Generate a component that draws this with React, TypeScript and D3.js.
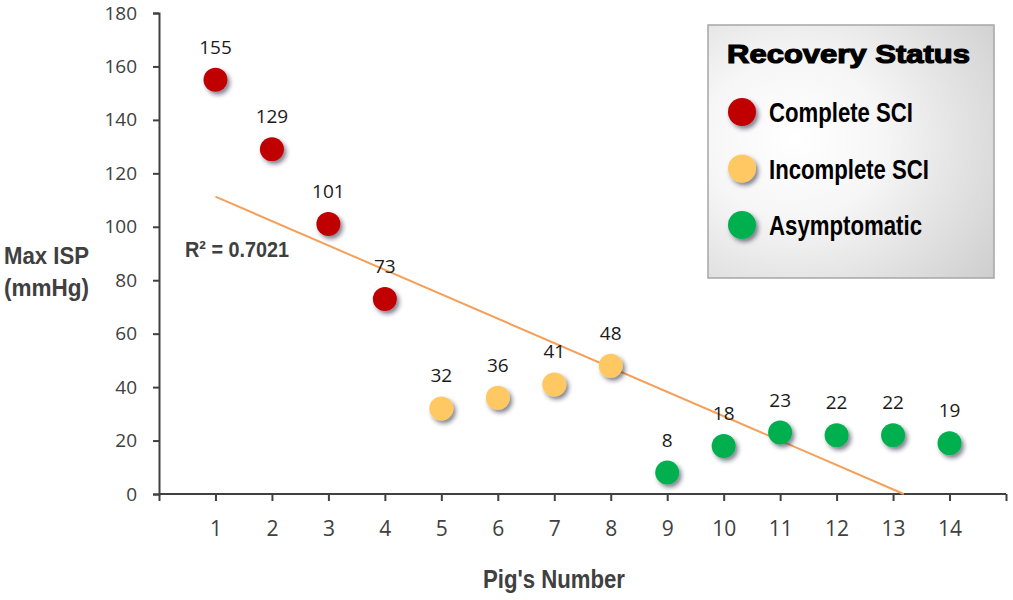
import React, { useRef, useEffect } from 'react';
import * as d3 from 'd3';

const pigs = [1, 2, 3, 4, 5, 6, 7, 8, 9, 10, 11, 12, 13, 14];
const maxIsp = [155, 129, 101, 73, 32, 36, 41, 48, 8, 18, 23, 22, 22, 19];
const status = ['c', 'c', 'c', 'c', 'i', 'i', 'i', 'i', 'a', 'a', 'a', 'a', 'a', 'a'];
const statusKeys = ['c', 'i', 'a'];
const statusLabels = ['Complete SCI', 'Incomplete SCI', 'Asymptomatic'];
const statusColors = ['#C00000', '#FFC864', '#00B050'];
const yTicks = [0, 20, 40, 60, 80, 100, 120, 140, 160, 180];
const rSquaredLabel = 'R² = 0.7021';

const W = 1013;
const H = 600;

const App: React.FC = () => {
  const ref = useRef<SVGSVGElement>(null);

  useEffect(() => {
    document.body.style.margin = '0';
    if (!ref.current) return;
    const svg = d3.select(ref.current);
    svg.selectAll('*').remove();

    const x = d3.scaleLinear().domain([0, 15]).range([159, 1006]);
    const y = d3.scaleLinear().domain([0, 180]).range([494, 13]);
    const color = d3.scaleOrdinal<string, string>().domain(statusKeys).range(statusColors);

    const defs = svg.append('defs');
    defs.append('filter')
      .attr('id', 'shadow')
      .attr('x', '-50%').attr('y', '-50%').attr('width', '200%').attr('height', '200%')
      .append('feDropShadow')
      .attr('dx', 2.5).attr('dy', 3).attr('stdDeviation', 2)
      .attr('flood-color', '#1a1a3a').attr('flood-opacity', 0.55);

    const grad = defs.append('radialGradient')
      .attr('id', 'legendFill')
      .attr('cx', '30%').attr('cy', '45%').attr('r', '90%');
    grad.append('stop').attr('offset', '0%').attr('stop-color', '#ffffff');
    grad.append('stop').attr('offset', '35%').attr('stop-color', '#f6f6f6');
    grad.append('stop').attr('offset', '100%').attr('stop-color', '#cdcdcd');

    const tickFont = '"Open Sans", "Noto Sans", sans-serif';
    const boldFont = '"Liberation Sans", Arial, sans-serif';

    // condensed bold text: squeeze to the measured width
    const narrow = (
      g: d3.Selection<any, any, any, any>, tx: number, ty: number, txt: string,
      size: number, len: number, fill: string,
    ) => g.append('text')
      .attr('x', tx).attr('y', ty)
      .attr('fill', fill)
      .attr('textLength', len)
      .attr('lengthAdjust', 'spacingAndGlyphs')
      .style('font-family', boldFont)
      .style('font-weight', 'bold')
      .style('font-size', `${size}px`)
      .text(txt);

    // Y axis
    const yAxis = svg.append('g')
      .attr('transform', `translate(${x(0)},0)`)
      .call(d3.axisLeft(y).tickValues(yTicks).tickSize(6).tickPadding(16));
    yAxis.select('.domain').attr('stroke', '#404040').attr('stroke-width', 2);
    yAxis.selectAll('.tick line').attr('stroke', '#404040').attr('stroke-width', 2);
    yAxis.selectAll('.tick text')
      .attr('fill', '#404040')
      .style('font-family', tickFont)
      .style('font-size', '19px');

    // X axis
    const xAxis = svg.append('g')
      .attr('transform', `translate(0,${y(0)})`)
      .call(d3.axisBottom(x).tickValues(d3.range(0, 16)).tickSize(7).tickPadding(20)
        .tickFormat(d => (pigs.includes(+d) ? String(d) : '')));
    xAxis.select('.domain').attr('stroke', '#404040').attr('stroke-width', 2)
      .attr('d', `M${x(0)},0H${x(15)}`);
    xAxis.selectAll('.tick line').attr('stroke', '#404040').attr('stroke-width', 2);
    xAxis.selectAll('.tick text')
      .attr('fill', '#404040')
      .style('font-family', tickFont)
      .style('font-size', '21px');

    // Axis titles
    narrow(svg, 4, 264, 'Max ISP', 23, 85, '#404040');
    narrow(svg, 4, 296, '(mmHg)', 23, 85, '#404040');
    narrow(svg, 483, 588, "Pig's Number", 25, 142, '#404040');

    // Trend line
    const mx = d3.mean(pigs) as number;
    const my = d3.mean(maxIsp) as number;
    const sxy = d3.sum(pigs, (p, i) => (p - mx) * (maxIsp[i] - my));
    const sxx = d3.sum(pigs, p => (p - mx) ** 2);
    const slope = sxy / sxx;
    const intercept = my - slope * mx;
    const xEnd = -intercept / slope;
    svg.append('line')
      .attr('x1', x(1)).attr('y1', y(intercept + slope))
      .attr('x2', x(xEnd)).attr('y2', y(0))
      .attr('stroke', '#F5A05A')
      .attr('stroke-width', 2);

    narrow(svg, 185, 257, rSquaredLabel, 22, 104, '#404040');

    // Points
    svg.append('g')
      .selectAll('circle')
      .data(pigs)
      .enter()
      .append('circle')
      .attr('cx', d => x(d))
      .attr('cy', (d, i) => y(maxIsp[i]))
      .attr('r', 12)
      .attr('fill', (d, i) => color(status[i]))
      .attr('filter', 'url(#shadow)');

    // Value labels
    svg.append('g')
      .selectAll('text')
      .data(pigs)
      .enter()
      .append('text')
      .attr('x', d => x(d))
      .attr('y', (d, i) => y(maxIsp[i]) - 26)
      .attr('text-anchor', 'middle')
      .attr('fill', '#1a1a1a')
      .style('font-family', tickFont)
      .style('font-size', '19px')
      .text((d, i) => maxIsp[i]);

    // Legend
    const lg = svg.append('g');
    lg.append('rect')
      .attr('x', 708).attr('y', 25)
      .attr('width', 286).attr('height', 253)
      .attr('fill', 'url(#legendFill)')
      .attr('stroke', '#a6a6a6')
      .attr('stroke-width', 1.5);
    lg.append('text')
      .attr('x', 727).attr('y', 63)
      .attr('fill', '#000')
      .attr('stroke', '#000')
      .attr('stroke-width', 1.2)
      .attr('textLength', 243)
      .attr('lengthAdjust', 'spacingAndGlyphs')
      .style('font-family', boldFont)
      .style('font-weight', 'bold')
      .style('font-size', '26px')
      .text('Recovery Status');
    const labelLens = [144, 160, 153];
    statusKeys.forEach((k, i) => {
      const cy = 112 + i * 56.5;
      lg.append('circle')
        .attr('cx', 742).attr('cy', cy).attr('r', 14)
        .attr('fill', color(k))
        .attr('filter', 'url(#shadow)');
      narrow(lg, 769, cy + 10, statusLabels[i], 27, labelLens[i], '#000');
    });
  }, []);

  return <svg ref={ref} width={W} height={H} style={{ display: 'block', background: '#fff' }} />;
};

export default App;
